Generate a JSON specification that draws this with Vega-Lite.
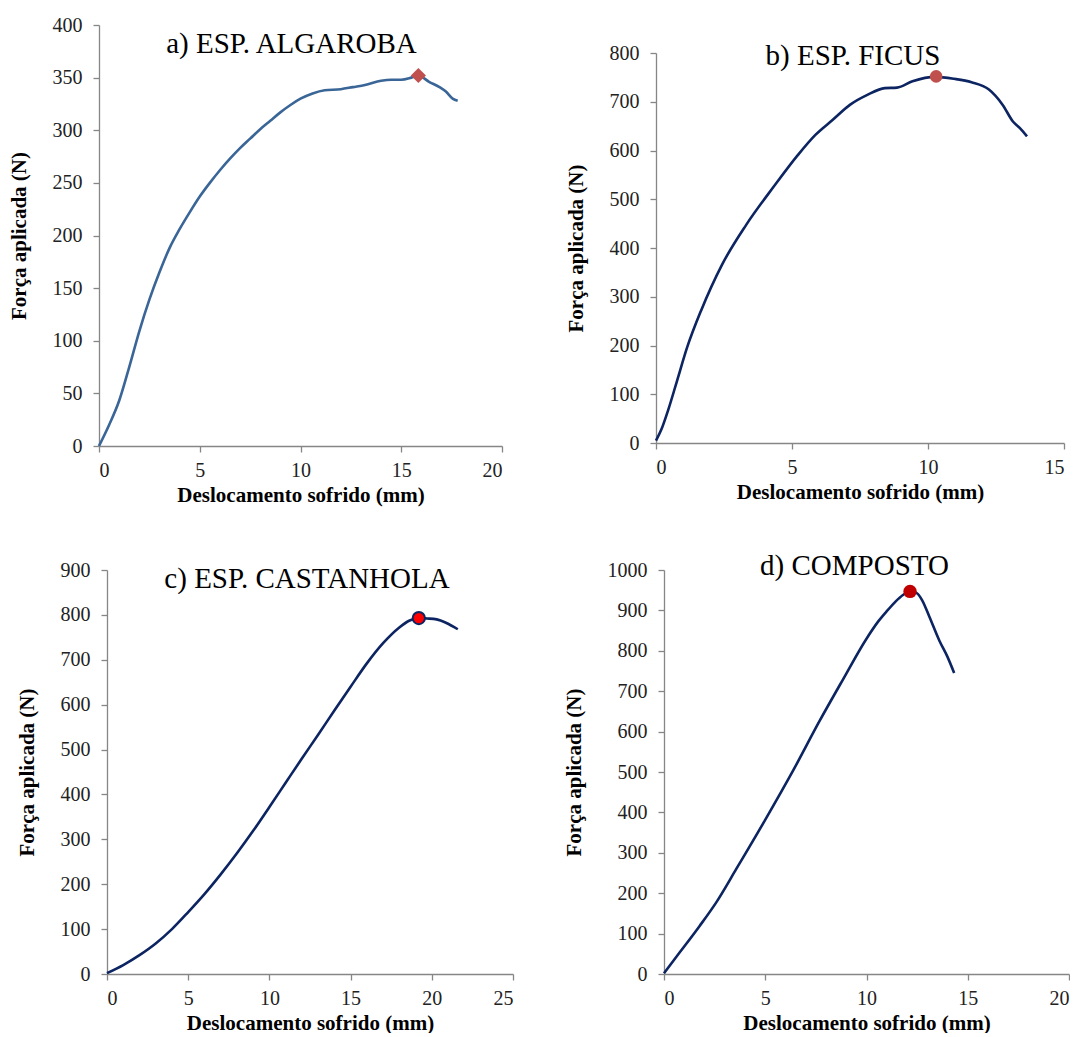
{
  "$schema": "https://vega.github.io/schema/vega-lite/v6.json",
  "background": "white",
  "padding": {"left": 7, "top": 15, "right": 0, "bottom": 0},
  "config": {
    "font": "Liberation Serif",
    "view": {"stroke": null},
    "axis": {
      "grid": false,
      "domainColor": "#868686",
      "tickColor": "#868686",
      "domainWidth": 1.3,
      "tickWidth": 1.3,
      "tickSize": 6,
      "labelFont": "Liberation Serif",
      "labelFontSize": 20,
      "labelColor": "#222222",
      "titleFont": "Liberation Serif",
      "titleFontSize": 21,
      "titleFontWeight": "bold",
      "titleColor": "#000000"
    },
    "axisX": {"labelPadding": 8, "titlePadding": 4},
    "axisY": {"labelPadding": 11, "titlePadding": 23},
    "title": {"font": "Liberation Serif", "fontSize": 29, "fontWeight": "normal", "color": "#000000", "frame": "group", "anchor": "middle", "baseline": "alphabetic"}
  },
  "datasets": {
    "a": [
      {"d": 0, "f": 0}, {"d": 0.5, "f": 20}, {"d": 1.0, "f": 43}, {"d": 1.5, "f": 75}, {"d": 2.0, "f": 109},
      {"d": 2.5, "f": 139}, {"d": 3.0, "f": 165}, {"d": 3.5, "f": 188}, {"d": 4.0, "f": 206}, {"d": 4.5, "f": 222},
      {"d": 5.0, "f": 237}, {"d": 5.5, "f": 250}, {"d": 6.0, "f": 262}, {"d": 6.5, "f": 273}, {"d": 7.0, "f": 283},
      {"d": 7.5, "f": 292}, {"d": 8.0, "f": 301}, {"d": 8.5, "f": 309}, {"d": 9.0, "f": 317}, {"d": 9.5, "f": 324},
      {"d": 10.0, "f": 330}, {"d": 10.6, "f": 335}, {"d": 11.2, "f": 338}, {"d": 12.0, "f": 339}, {"d": 12.6, "f": 341},
      {"d": 13.2, "f": 343}, {"d": 14.0, "f": 347}, {"d": 14.5, "f": 348}, {"d": 15.0, "f": 348}, {"d": 15.5, "f": 350},
      {"d": 15.85, "f": 352}, {"d": 16.38, "f": 346}, {"d": 16.9, "f": 341}, {"d": 17.2, "f": 337}, {"d": 17.55, "f": 330},
      {"d": 17.8, "f": 328}
    ],
    "pa": [{"d": 15.85, "f": 352}],
    "b": [
      {"d": 0, "f": 5}, {"d": 0.2, "f": 28}, {"d": 0.45, "f": 68}, {"d": 0.76, "f": 125}, {"d": 1.15, "f": 197},
      {"d": 1.66, "f": 272}, {"d": 2.42, "f": 365}, {"d": 3.31, "f": 447}, {"d": 4.33, "f": 526}, {"d": 5.22, "f": 591},
      {"d": 5.86, "f": 632}, {"d": 6.5, "f": 663}, {"d": 7.14, "f": 694}, {"d": 7.77, "f": 714}, {"d": 8.41, "f": 728},
      {"d": 8.86, "f": 729}, {"d": 9.43, "f": 742}, {"d": 10.26, "f": 751}, {"d": 10.96, "f": 747}, {"d": 11.6, "f": 740},
      {"d": 12.24, "f": 725}, {"d": 12.74, "f": 694}, {"d": 13.13, "f": 659}, {"d": 13.38, "f": 646}, {"d": 13.64, "f": 629}
    ],
    "pb": [{"d": 10.3, "f": 752}],
    "c": [
      {"d": 0, "f": 2}, {"d": 1, "f": 20}, {"d": 2, "f": 42}, {"d": 3, "f": 68}, {"d": 4, "f": 100},
      {"d": 5, "f": 138}, {"d": 6, "f": 178}, {"d": 7, "f": 222}, {"d": 8, "f": 269}, {"d": 9, "f": 319},
      {"d": 10, "f": 372}, {"d": 11, "f": 426}, {"d": 12, "f": 480}, {"d": 13, "f": 533}, {"d": 14, "f": 587},
      {"d": 15, "f": 640}, {"d": 16, "f": 692}, {"d": 17, "f": 737}, {"d": 18, "f": 772}, {"d": 18.6, "f": 787},
      {"d": 19.2, "f": 793}, {"d": 19.7, "f": 792}, {"d": 20.3, "f": 790}, {"d": 20.9, "f": 782}, {"d": 21.6, "f": 768}
    ],
    "pc": [{"d": 19.2, "f": 793}],
    "dd": [
      {"d": 0, "f": 2}, {"d": 0.77, "f": 53}, {"d": 1.76, "f": 119}, {"d": 2.59, "f": 178}, {"d": 3.57, "f": 260},
      {"d": 4.99, "f": 381}, {"d": 6.38, "f": 504}, {"d": 7.69, "f": 627}, {"d": 8.85, "f": 730}, {"d": 10.0, "f": 830},
      {"d": 10.6, "f": 874}, {"d": 11.0, "f": 898}, {"d": 11.4, "f": 920}, {"d": 11.8, "f": 938}, {"d": 12.15, "f": 947},
      {"d": 12.45, "f": 944}, {"d": 12.75, "f": 925}, {"d": 13.1, "f": 885}, {"d": 13.6, "f": 825}, {"d": 14.0, "f": 785},
      {"d": 14.33, "f": 745}
    ],
    "pd": [{"d": 12.15, "f": 947}]
  },
  "vconcat": [
    {
      "spacing": 62,
      "hconcat": [
        {
          "spacing": 0,
          "hconcat": [
            {"width": 1, "height": 1, "data": {"values": []}, "mark": "point"},
            {
              "width": 403, "height": 421,
              "title": {"text": "a) ESP. ALGAROBA", "offset": -44, "dx": -9},
              "layer": [
                {
                  "data": {"name": "a"},
                  "mark": {"type": "line", "color": "#3a6597", "strokeWidth": 2.6, "interpolate": "monotone"},
                  "encoding": {
                    "x": {"field": "d", "type": "quantitative", "scale": {"domain": [0, 20], "nice": false}, "axis": {"values": [0, 5, 10, 15, 20], "format": "d", "title": "Deslocamento sofrido (mm)"}},
                    "y": {"field": "f", "type": "quantitative", "scale": {"domain": [0, 400], "nice": false}, "axis": {"values": [0, 50, 100, 150, 200, 250, 300, 350, 400], "format": "d", "title": "Força aplicada (N)"}}
                  }
                },
                {
                  "data": {"name": "pa"},
                  "mark": {"type": "point", "shape": "diamond", "filled": true, "color": "#c0504d", "size": 230, "opacity": 1},
                  "encoding": {
                    "x": {"field": "d", "type": "quantitative"},
                    "y": {"field": "f", "type": "quantitative"}
                  }
                }
              ]
            }
          ]
        },
        {
          "spacing": 0,
          "vconcat": [
            {"width": 1, "height": 17, "data": {"values": []}, "mark": "point"},
            {
              "width": 408, "height": 390,
              "title": {"text": "b) ESP. FICUS", "offset": -28, "dx": -7},
              "layer": [
                {
                  "data": {"name": "b"},
                  "mark": {"type": "line", "color": "#0c2461", "strokeWidth": 2.6, "interpolate": "monotone"},
                  "encoding": {
                    "x": {"field": "d", "type": "quantitative", "scale": {"domain": [0, 15], "nice": false}, "axis": {"values": [0, 5, 10, 15], "format": "d", "title": "Deslocamento sofrido (mm)"}},
                    "y": {"field": "f", "type": "quantitative", "scale": {"domain": [0, 800], "nice": false}, "axis": {"values": [0, 100, 200, 300, 400, 500, 600, 700, 800], "format": "d", "title": "Força aplicada (N)"}}
                  }
                },
                {
                  "data": {"name": "pb"},
                  "mark": {"type": "point", "shape": "circle", "filled": true, "color": "#c0504d", "size": 160, "opacity": 1},
                  "encoding": {
                    "x": {"field": "d", "type": "quantitative"},
                    "y": {"field": "f", "type": "quantitative"}
                  }
                }
              ]
            }
          ]
        }
      ]
    },
    {
      "spacing": 49,
      "hconcat": [
        {
          "spacing": 0,
          "hconcat": [
            {"width": 9, "height": 1, "data": {"values": []}, "mark": "point"},
            {
              "width": 406, "height": 404,
              "title": {"text": "c) ESP. CASTANHOLA", "offset": -34, "dx": -3},
              "layer": [
                {
                  "data": {"name": "c"},
                  "mark": {"type": "line", "color": "#0c2461", "strokeWidth": 2.6, "interpolate": "monotone"},
                  "encoding": {
                    "x": {"field": "d", "type": "quantitative", "scale": {"domain": [0, 25], "nice": false}, "axis": {"values": [0, 5, 10, 15, 20, 25], "format": "d", "title": "Deslocamento sofrido (mm)"}},
                    "y": {"field": "f", "type": "quantitative", "scale": {"domain": [0, 900], "nice": false}, "axis": {"values": [0, 100, 200, 300, 400, 500, 600, 700, 800, 900], "format": "d", "title": "Força aplicada (N)"}}
                  }
                },
                {
                  "data": {"name": "pc"},
                  "mark": {"type": "point", "shape": "circle", "filled": true, "fill": "#ff0000", "stroke": "#0c2461", "strokeWidth": 2, "size": 150, "opacity": 1},
                  "encoding": {
                    "x": {"field": "d", "type": "quantitative"},
                    "y": {"field": "f", "type": "quantitative"}
                  }
                }
              ]
            }
          ]
        },
        {
          "width": 405, "height": 404,
          "title": {"text": "d) COMPOSTO", "offset": -21, "dx": -12},
          "layer": [
            {
              "data": {"name": "dd"},
              "mark": {"type": "line", "color": "#0c2461", "strokeWidth": 2.6, "interpolate": "monotone"},
              "encoding": {
                "x": {"field": "d", "type": "quantitative", "scale": {"domain": [0, 20], "nice": false}, "axis": {"values": [0, 5, 10, 15, 20], "format": "d", "title": "Deslocamento sofrido (mm)"}},
                "y": {"field": "f", "type": "quantitative", "scale": {"domain": [0, 1000], "nice": false}, "axis": {"values": [0, 100, 200, 300, 400, 500, 600, 700, 800, 900, 1000], "format": "d", "title": "Força aplicada (N)"}}
              }
            },
            {
              "data": {"name": "pd"},
              "mark": {"type": "point", "shape": "circle", "filled": true, "color": "#c00000", "size": 180, "opacity": 1},
              "encoding": {
                "x": {"field": "d", "type": "quantitative"},
                "y": {"field": "f", "type": "quantitative"}
              }
            }
          ]
        }
      ]
    }
  ],
  "spacing": 47
}
